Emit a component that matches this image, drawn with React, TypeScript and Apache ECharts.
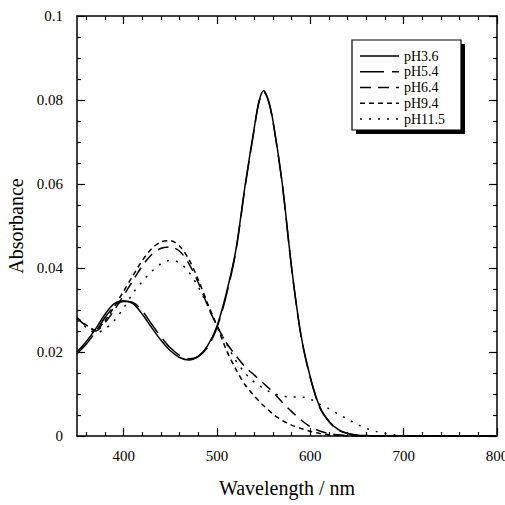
import React, { useEffect, useRef } from "react";
import * as echarts from "echarts";

const wavelengths = [350, 360, 370, 380, 390, 400, 410, 420, 430, 440, 450, 460, 470, 480, 490, 500, 510, 520, 530, 540, 545, 550, 555, 560, 570, 580, 590, 600, 610, 620, 630, 640, 650, 660, 670, 680, 690, 700, 720, 750, 800];

const pH36 = [0.0200, 0.0225, 0.0255, 0.0290, 0.0315, 0.0322, 0.0315, 0.0290, 0.0258, 0.0228, 0.0203, 0.0187, 0.0181, 0.0190, 0.0215, 0.0262, 0.0340, 0.0440, 0.0595, 0.0735, 0.0797, 0.0822, 0.0800, 0.0750, 0.0600, 0.0400, 0.0240, 0.0140, 0.0070, 0.0035, 0.0015, 0.0006, 0.0002, 0.0001, 0, 0, 0, 0, 0, 0, 0];
const pH54 = [0.0196, 0.0219, 0.0248, 0.0282, 0.0309, 0.0320, 0.0318, 0.0298, 0.0266, 0.0236, 0.0210, 0.0192, 0.0184, 0.0189, 0.0212, 0.0258, 0.0335, 0.0437, 0.0592, 0.0732, 0.0795, 0.0819, 0.0798, 0.0748, 0.0598, 0.0398, 0.0238, 0.0138, 0.0068, 0.0034, 0.0014, 0.0006, 0.0002, 0, 0, 0, 0, 0, 0, 0, 0];
const pH64 = [0.0280, 0.0262, 0.0250, 0.0270, 0.0300, 0.0335, 0.0370, 0.0405, 0.0432, 0.0447, 0.0450, 0.0440, 0.0410, 0.0365, 0.0310, 0.0262, 0.0222, 0.0192, 0.0165, 0.0145, 0.0135, 0.0125, 0.0115, 0.0105, 0.0080, 0.0058, 0.0038, 0.0022, 0.0012, 0.0006, 0.0003, 0.0001, 0, 0, 0, 0, 0, 0, 0, 0, 0];
const pH94 = [0.0282, 0.0264, 0.0252, 0.0275, 0.0308, 0.0345, 0.0382, 0.0418, 0.0446, 0.0462, 0.0465, 0.0452, 0.0420, 0.0372, 0.0315, 0.0262, 0.0205, 0.0160, 0.0122, 0.0095, 0.0083, 0.0072, 0.0062, 0.0052, 0.0037, 0.0026, 0.0018, 0.0011, 0.0006, 0.0003, 0.0001, 0, 0, 0, 0, 0, 0, 0, 0, 0, 0];
const pH115 = [0.0275, 0.0258, 0.0245, 0.0255, 0.0275, 0.0305, 0.0340, 0.0368, 0.0392, 0.0410, 0.0418, 0.0412, 0.0390, 0.0355, 0.0310, 0.0262, 0.0220, 0.0180, 0.0150, 0.0128, 0.0120, 0.0113, 0.0107, 0.0102, 0.0095, 0.0093, 0.0093, 0.0088, 0.0076, 0.0065, 0.0052, 0.0040, 0.0028, 0.0018, 0.0011, 0.0006, 0.0003, 0.0001, 0, 0, 0];

const seriesNames = ["pH3.6", "pH5.4", "pH6.4", "pH9.4", "pH11.5"];
const seriesValues = [pH36, pH54, pH64, pH94, pH115];
const dashes: (number[] | "solid")[] = ["solid", [24, 8], [11, 7], [5, 4], [2, 7]];

const xMajorTicks = [400, 500, 600, 700, 800];
const xMinorTicks = [360, 380, 420, 440, 460, 480, 520, 540, 560, 580, 620, 640, 660, 680, 720, 740, 760, 780];

const FONT = "'Times New Roman', 'Liberation Serif', Times, serif";

export default function App() {
  const ref = useRef<HTMLDivElement>(null);
  useEffect(() => {
    if (!ref.current) return;
    const chart = echarts.init(ref.current, null, { renderer: "svg" });
    const black = "#000";
    const grid = { left: 77, right: 8, top: 16, bottom: 69, containLabel: false, outerBoundsMode: "none" };
    const baseX = {
      type: "value" as const,
      min: 350,
      max: 800,
      gridIndex: 0,
      splitLine: { show: false },
    };
    const lineStyle = { color: black, width: 1.5 };

    const legX = 352, legY = 40, legW = 109, legH = 90;
    const rowY = [56, 71.8, 87.5, 103.2, 119];
    const legendChildren: any[] = [
      { type: "rect", shape: { x: legX + 4, y: legY + 4, width: legW, height: legH }, style: { fill: black } },
      { type: "rect", shape: { x: legX, y: legY, width: legW, height: legH }, style: { fill: "#fff", stroke: black, lineWidth: 1.2 } },
    ];
    seriesNames.forEach((n, i) => {
      legendChildren.push({
        type: "line",
        shape: { x1: legX + 8, y1: rowY[i], x2: legX + 47, y2: rowY[i] },
        style: { stroke: black, lineWidth: 1.5, lineDash: dashes[i] === "solid" ? null : (dashes[i] as number[]) },
      });
      legendChildren.push({
        type: "text",
        x: legX + 52,
        y: rowY[i],
        style: { text: n, fill: black, fontFamily: FONT, fontSize: 14, verticalAlign: "middle", align: "left" },
      });
    });

    chart.setOption({
      animation: false,
      backgroundColor: "#fff",
      textStyle: { fontFamily: FONT },
      grid,
      xAxis: [
        {
          ...baseX,
          position: "bottom",
          name: "Wavelength / nm",
          nameLocation: "middle",
          nameGap: 42,
          nameTextStyle: { fontFamily: FONT, fontSize: 20, color: black },
          axisLine: { show: true, lineStyle },
          axisTick: { show: true, inside: true, length: 8, customValues: xMajorTicks, lineStyle: { color: black, width: 1.2 } },
          axisLabel: { show: true, customValues: xMajorTicks, fontFamily: FONT, fontSize: 15, color: black, margin: 12 },
        },
        {
          ...baseX,
          position: "bottom",
          axisLine: { show: false },
          axisTick: { show: true, inside: true, length: 4, customValues: xMinorTicks, lineStyle: { color: black, width: 1.2 } },
          axisLabel: { show: false },
        },
        {
          ...baseX,
          position: "top",
          axisLine: { show: true, lineStyle },
          axisTick: { show: true, inside: true, length: 8, customValues: xMajorTicks, lineStyle: { color: black, width: 1.2 } },
          axisLabel: { show: false },
        },
        {
          ...baseX,
          position: "top",
          axisLine: { show: false },
          axisTick: { show: true, inside: true, length: 4, customValues: xMinorTicks, lineStyle: { color: black, width: 1.2 } },
          axisLabel: { show: false },
        },
      ],
      yAxis: [
        {
          type: "value",
          min: 0,
          max: 0.1,
          interval: 0.02,
          position: "left",
          name: "Absorbance",
          nameLocation: "middle",
          nameGap: 44,
          nameTextStyle: { fontFamily: FONT, fontSize: 20, color: black },
          splitLine: { show: false },
          axisLine: { show: true, lineStyle },
          axisTick: { show: true, inside: true, length: 8, lineStyle: { color: black, width: 1.2 } },
          minorTick: { show: true, splitNumber: 4, length: 4, lineStyle: { color: black, width: 1.2 } },
          axisLabel: { fontFamily: FONT, fontSize: 15, color: black, margin: 14 },
        },
        {
          type: "value",
          min: 0,
          max: 0.1,
          interval: 0.02,
          position: "right",
          splitLine: { show: false },
          axisLine: { show: true, lineStyle },
          axisTick: { show: true, inside: true, length: 8, lineStyle: { color: black, width: 1.2 } },
          minorTick: { show: true, splitNumber: 4, length: 4, lineStyle: { color: black, width: 1.2 } },
          axisLabel: { show: false },
        },
      ],
      series: seriesNames.map((name, i) => ({
        name,
        type: "line",
        xAxisIndex: 0,
        yAxisIndex: 0,
        symbol: "none",
        smooth: 0.3,
        data: wavelengths.map((w, k) => [w, seriesValues[i][k]]),
        lineStyle: { color: black, width: 1.5, type: dashes[i] },
      })),
      graphic: [{ type: "group", children: legendChildren }],
    });
    return () => chart.dispose();
  }, []);
  return <div ref={ref} style={{ position: "absolute", left: 0, top: 0, width: 505, height: 505 }} />;
}
